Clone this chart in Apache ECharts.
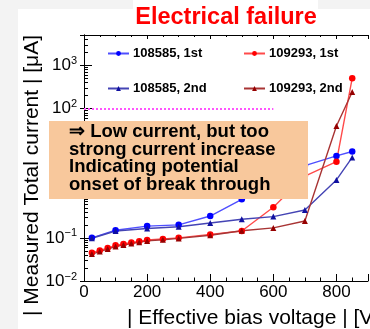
<!DOCTYPE html>
<html>
<head>
<meta charset="utf-8">
<script src="https://cdn.jsdelivr.net/npm/echarts@6/dist/echarts.min.js"></script>
<style>
  html, body { margin: 0; padding: 0; background: #fff; }
  #chart { width: 370px; height: 329px; }
</style>
</head>
<body>
<div id="chart"></div>
<script>
// Leakage current versus effective bias voltage for two sensors, two runs each
const voltage108585First = [25, 100, 200, 300, 400, 500, 700, 800, 850];
const current108585First = [0.10, 0.15, 0.187, 0.20, 0.32, 0.78, 4.7, 7.9, 10.0];

const voltage108585Second = [25, 100, 200, 300, 400, 500, 600, 700, 800, 850];
const current108585Second = [0.098, 0.144, 0.165, 0.18, 0.22, 0.27, 0.31, 0.44, 2.2, 7.3];

const voltage109293First = [25, 50, 75, 100, 125, 150, 175, 200, 250, 300, 400, 500, 600, 700, 800, 850];
const current109293First = [0.045, 0.051, 0.058, 0.067, 0.072, 0.078, 0.083, 0.089, 0.094, 0.10, 0.12, 0.144, 0.51, 2.7, 5.8, 500];

const voltage109293Second = [25, 50, 75, 100, 125, 150, 175, 200, 250, 300, 400, 500, 600, 700, 800, 850];
const current109293Second = [0.042, 0.048, 0.055, 0.063, 0.068, 0.074, 0.079, 0.085, 0.090, 0.097, 0.115, 0.146, 0.17, 0.245, 39, 240];

const seriesNames = ['108585, 1st', '109293, 1st', '108585, 2nd', '109293, 2nd'];
const limitCurrent = 100;      // dotted reference level
const limitVoltageEnd = 600;
const xTickLabels = ['0', '200', '400', '600', '800'];
const yDecades = [-2, -1, 0, 1, 2, 3];

const FONT = "'Liberation Sans', Arial, Helvetica, sans-serif";
const X_MIN = 0, X_MAX = 900, Y_MIN = 0.01, Y_MAX = 5000;

function pairs(xs, ys) { return xs.map((x, i) => [x, ys[i]]); }

// minor ticks 2..9 within each decade on the log axis
const minorTickValues = [];
yDecades.forEach(d => {
  for (let m = 2; m <= 9; m++) {
    const v = m * Math.pow(10, d);
    if (v < Y_MAX) minorTickValues.push([X_MIN, v]);
  }
});

function yLabel(v) {
  const lg = Math.log10(v);
  const e = Math.round(lg);
  if (Math.abs(lg - e) > 1e-6) return '';
  return '{b|10}{s|' + (e < 0 ? '\u2212' + (-e) : String(e)) + '}';
}
function xLabel(v) {
  const s = String(Math.round(v));
  return xTickLabels.indexOf(s) >= 0 ? s : '';
}

const axisLineStyle = { show: true, lineStyle: { color: '#000', width: 1 } };

function lineSeries(name, data, symbol, markerColor, lineColor, extra) {
  return Object.assign({
    name: name,
    type: 'line',
    data: data,
    symbol: symbol,
    symbolSize: symbol === 'circle' ? 6.5 : 6,
    showSymbol: true,
    itemStyle: { color: markerColor },
    lineStyle: { color: lineColor, width: 1.4 },
    z: 3
  }, extra || {});
}

function legendAt(name, left, top) {
  return {
    data: [name],
    left: left,
    top: top,
    padding: 0,
    itemWidth: 21,
    itemHeight: 6,
    itemGap: 4,
    selectedMode: false,
    textStyle: { fontFamily: FONT, fontWeight: 'bold', fontSize: 13, color: '#000', padding: [0, 0, 0, -1] }
  };
}

const chart = echarts.init(document.getElementById('chart'), null, { renderer: 'canvas' });

chart.setOption({
  backgroundColor: '#ffffff',
  animation: false,
  grid: { left: 84, right: 2, top: 35, bottom: 48 },
  legend: [
    legendAt(seriesNames[0], 107, 47),
    legendAt(seriesNames[1], 243, 47),
    legendAt(seriesNames[2], 107, 82),
    legendAt(seriesNames[3], 243, 82)
  ],
  xAxis: [
    {
      type: 'value', min: X_MIN, max: X_MAX, interval: 200,
      axisLine: axisLineStyle,
      axisTick: { show: true, inside: true, length: 7, lineStyle: { color: '#000' } },
      minorTick: { show: true, splitNumber: 4, length: 3.5, lineStyle: { color: '#000' } },
      splitLine: { show: false },
      axisLabel: { formatter: xLabel, showMaxLabel: false, fontFamily: FONT, fontSize: 17, color: '#000', margin: 3 }
    },
    {
      type: 'value', position: 'top', min: X_MIN, max: X_MAX, interval: 200,
      axisLine: axisLineStyle,
      axisTick: { show: true, inside: true, length: 4, lineStyle: { color: '#000' } },
      minorTick: { show: true, splitNumber: 4, length: 2, lineStyle: { color: '#000' } },
      splitLine: { show: false },
      axisLabel: { show: false }
    }
  ],
  yAxis: [
    {
      type: 'log', logBase: 10, min: Y_MIN, max: Y_MAX,
      axisLine: axisLineStyle,
      axisTick: { show: true, inside: true, length: 8, lineStyle: { color: '#000' } },
      splitLine: { show: false },
      axisLabel: {
        formatter: yLabel, showMaxLabel: false, margin: 7,
        rich: {
          b: { fontFamily: FONT, fontSize: 17, color: '#000', lineHeight: 20 },
          s: { fontFamily: FONT, fontSize: 11, color: '#000', lineHeight: 20, padding: [0, 0, 9, 0] }
        }
      }
    },
    {
      type: 'log', logBase: 10, min: Y_MIN, max: Y_MAX, position: 'right',
      axisLine: axisLineStyle,
      axisTick: { show: true, inside: true, length: 4, lineStyle: { color: '#000' } },
      splitLine: { show: false },
      axisLabel: { show: false }
    }
  ],
  series: [
    lineSeries(seriesNames[0], pairs(voltage108585First, current108585First), 'circle', '#0000ff', '#4f4fff', {
      markLine: {
        silent: true,
        symbol: 'none',
        label: { show: false },
        lineStyle: { color: '#ff55ff', width: 2, type: [2, 2] },
        data: [[{ coord: [X_MIN, limitCurrent] }, { coord: [limitVoltageEnd, limitCurrent] }]]
      }
    }),
    lineSeries(seriesNames[1], pairs(voltage109293First, current109293First), 'circle', '#ff0000', '#ff4a4a'),
    lineSeries(seriesNames[2], pairs(voltage108585Second, current108585Second), 'triangle', '#1010a0', '#4444b4'),
    lineSeries(seriesNames[3], pairs(voltage109293Second, current109293Second), 'triangle', '#960000', '#a83434'),
    {
      type: 'custom',
      silent: true,
      clip: false,
      data: minorTickValues,
      renderItem: function (params, api) {
        const p = api.coord([api.value(0), api.value(1)]);
        const y = Math.round(p[1]) + 0.5;
        return {
          type: 'line',
          shape: { x1: p[0], y1: y, x2: p[0] + 4, y2: y },
          style: { stroke: '#000', lineWidth: 1 }
        };
      },
      z: 2
    }
  ],
  graphic: [
    // light frame strips around the page
    { type: 'rect', left: 0, top: 0, shape: { width: 18, height: 329 }, style: { fill: '#f3f3f3' }, z: -1, silent: true },
    { type: 'rect', left: 0, top: 0, shape: { width: 370, height: 9 }, style: { fill: '#f3f3f3' }, z: -1, silent: true },
    { type: 'rect', left: 133, top: 0, shape: { width: 185, height: 9 }, style: { fill: '#ffffff' }, z: -1, silent: true },
    {
      type: 'text', x: 226, y: 18, z: 100, silent: true,
      style: { text: 'Electrical failure', fill: '#ff0000', fontFamily: FONT, fontWeight: 'bold', fontSize: 23.5,
               align: 'center', verticalAlign: 'middle', textAlign: 'center', textVerticalAlign: 'middle' }
    },
    {
      type: 'text', x: 32, y: 175.5, rotation: Math.PI / 2, z: 100, silent: true,
      style: { text: '| Measured Total current | [\u03bcA]', fill: '#000', fontFamily: FONT, fontSize: 21,
               align: 'center', verticalAlign: 'middle', textAlign: 'center', textVerticalAlign: 'middle' }
    },
    {
      type: 'text', x: 127, y: 318, z: 100, silent: true,
      style: { text: '| Effective bias voltage | [V]', fill: '#000', fontFamily: FONT, fontSize: 21,
               align: 'left', verticalAlign: 'middle', textAlign: 'left', textVerticalAlign: 'middle' }
    },
    { type: 'rect', x: 49, y: 121, shape: { width: 259, height: 78 }, style: { fill: '#f8c89c' }, z: 100, silent: true },
    {
      type: 'text', x: 69, y: 123, z: 101, silent: true,
      style: {
        text: '\u21d2 Low current, but too\nstrong current increase\nIndicating potential\nonset of break through',
        fill: '#000', fontFamily: FONT, fontWeight: 'bold', fontSize: 18.5, lineHeight: 17.7,
        align: 'left', verticalAlign: 'top', textAlign: 'left', textVerticalAlign: 'top'
      }
    }
  ]
});
</script>
</body>
</html>
